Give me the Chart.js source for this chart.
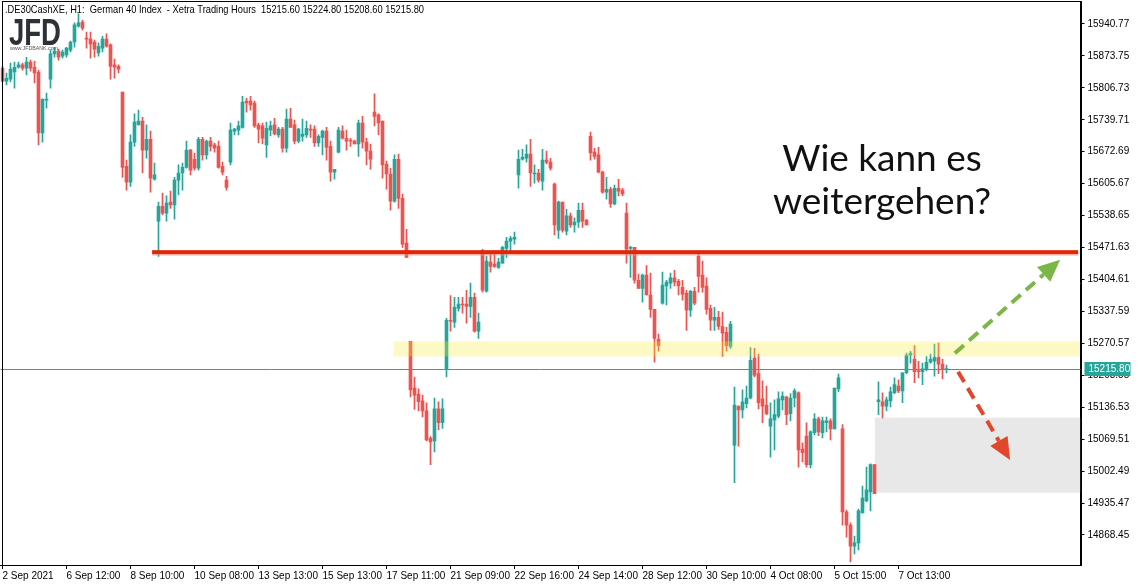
<!DOCTYPE html>
<html>
<head>
<meta charset="utf-8">
<script src="https://cdn.jsdelivr.net/npm/chart.js@4.4.1/dist/chart.umd.min.js"></script>
<style>
  html, body { margin: 0; padding: 0; background: #fff; }
</style>
</head>
<body>
<canvas id="chart" width="1142" height="588"></canvas>
<script>
// DE30 (German 40) H1 candles, Xetra hours, 2 Sep - 8 Oct 2021
const openP = [
  15848, 15821, 15825, 15840, 15850, 15855, 15848, 15861, 15850, 15840,
  15712, 15781, 15825, 15878, 15884, 15873, 15876, 15886, 15903, 15936,
  15945, 15911, 15909, 15903, 15880, 15890, 15909, 15897, 15855, 15852,
  15798, 15642, 15609, 15693, 15729, 15737, 15676, 15699, 15615, 15527,
  15558, 15544, 15567, 15561, 15613, 15628, 15640, 15676, 15657, 15638,
  15699, 15666, 15695, 15687, 15684, 15642, 15613, 15651, 15716, 15718,
  15724, 15779, 15779, 15775, 15729, 15727, 15687, 15718, 15729, 15708,
  15720, 15680, 15741, 15729, 15695, 15705, 15708, 15720, 15720, 15691,
  15703, 15716, 15684, 15630, 15672, 15716, 15701, 15697, 15695, 15689,
  15733, 15693, 15674, 15756, 15750, 15737, 15647, 15626, 15569, 15657,
  15575, 15481, 15275, 15177, 15164, 15150, 15129, 15072, 15066, 15133,
  15104, 15217, 15319, 15315, 15344, 15353, 15353, 15348, 15367, 15296,
  15458, 15380, 15441, 15437, 15430, 15439, 15470, 15485, 15489, 15624,
  15657, 15659, 15668, 15626, 15628, 15611, 15655, 15651, 15605, 15508,
  15567, 15506, 15538, 15519, 15525, 15550, 15529, 15705, 15672, 15666,
  15630, 15588, 15594, 15563, 15596, 15592, 15544, 15470, 15472, 15403,
  15386, 15414, 15372, 15342, 15279, 15355, 15391, 15397, 15408, 15401,
  15388, 15376, 15340, 15380, 15453, 15414, 15391, 15344, 15319, 15325,
  15306, 15294, 15264, 15057, 15139, 15131, 15144, 15156, 15239, 15207,
  15154, 15141, 15097, 15110, 15118, 15152, 15158, 15123, 15156, 15167,
  15049, 15076, 15016, 15083, 15112, 15083, 15104, 15108, 15091, 15175,
  15091, 14917, 14889, 14845, 14852, 14915, 14940, 14959, 15016, 15148,
  15148, 15139, 15150, 15167, 15181, 15171, 15209, 15246, 15237, 15213,
  15211, 15217, 15231, 15233, 15241, 15227, 15215.6
];
const highP = [
  15852, 15838, 15859, 15861, 15861, 15859, 15871, 15865, 15863, 15844,
  15783, 15796, 15886, 15892, 15888, 15886, 15892, 15905, 15943, 15962,
  15949, 15924, 15924, 15907, 15901, 15915, 15920, 15899, 15867, 15855,
  15798, 15655, 15708, 15752, 15760, 15745, 15729, 15716, 15649, 15567,
  15586, 15580, 15590, 15619, 15645, 15649, 15695, 15678, 15670, 15703,
  15703, 15697, 15703, 15691, 15695, 15651, 15621, 15733, 15722, 15737,
  15789, 15785, 15789, 15779, 15733, 15733, 15735, 15737, 15743, 15724,
  15724, 15762, 15764, 15739, 15722, 15741, 15737, 15729, 15727, 15708,
  15718, 15724, 15695, 15636, 15724, 15727, 15718, 15701, 15697, 15739,
  15747, 15701, 15689, 15794, 15752, 15737, 15653, 15638, 15666, 15668,
  15584, 15510, 15275, 15200, 15175, 15162, 15146, 15075, 15156, 15148,
  15154, 15323, 15371, 15367, 15367, 15367, 15382, 15397, 15376, 15334,
  15468, 15453, 15460, 15460, 15449, 15474, 15493, 15495, 15504, 15676,
  15678, 15687, 15699, 15645, 15636, 15678, 15674, 15659, 15607, 15569,
  15567, 15552, 15544, 15534, 15565, 15565, 15531, 15714, 15680, 15682,
  15632, 15619, 15598, 15603, 15615, 15596, 15565, 15474, 15472, 15416,
  15416, 15434, 15418, 15342, 15290, 15420, 15403, 15418, 15424, 15405,
  15403, 15382, 15382, 15388, 15462, 15443, 15408, 15351, 15346, 15338,
  15336, 15304, 15317, 15179, 15139, 15173, 15181, 15262, 15260, 15248,
  15192, 15181, 15146, 15152, 15169, 15169, 15160, 15165, 15175, 15169,
  15062, 15104, 15087, 15123, 15116, 15116, 15116, 15112, 15177, 15206,
  15100, 14921, 14894, 14866, 14923, 14971, 15011, 15018, 15016, 15190,
  15167, 15158, 15179, 15198, 15194, 15209, 15250, 15254, 15266, 15233,
  15229, 15243, 15248, 15269, 15271, 15237, 15224.8
];
const lowP = [
  15819, 15813, 15819, 15806, 15848, 15844, 15834, 15842, 15817, 15687,
  15693, 15764, 15806, 15871, 15865, 15869, 15871, 15882, 15892, 15934,
  15928, 15890, 15869, 15871, 15873, 15882, 15892, 15825, 15827, 15838,
  15619, 15592, 15600, 15684, 15729, 15628, 15659, 15588, 15613, 15453,
  15540, 15527, 15554, 15531, 15582, 15592, 15638, 15624, 15634, 15634,
  15655, 15657, 15674, 15672, 15638, 15624, 15592, 15645, 15708, 15708,
  15722, 15756, 15760, 15724, 15691, 15689, 15661, 15706, 15708, 15703,
  15672, 15672, 15724, 15689, 15691, 15695, 15703, 15703, 15684, 15684,
  15666, 15655, 15611, 15615, 15670, 15699, 15676, 15684, 15689, 15663,
  15680, 15645, 15636, 15727, 15708, 15617, 15594, 15550, 15567, 15554,
  15472, 15451, 15158, 15132, 15129, 15116, 15066, 15016, 15043, 15089,
  15092, 15200, 15296, 15304, 15338, 15334, 15313, 15325, 15294, 15281,
  15378, 15378, 15420, 15430, 15428, 15439, 15451, 15464, 15479, 15596,
  15655, 15651, 15600, 15607, 15609, 15592, 15647, 15634, 15498, 15491,
  15504, 15498, 15514, 15504, 15514, 15514, 15519, 15655, 15657, 15628,
  15586, 15573, 15556, 15561, 15580, 15580, 15439, 15409, 15397, 15386,
  15357, 15372, 15325, 15231, 15254, 15353, 15351, 15386, 15391, 15372,
  15361, 15298, 15327, 15351, 15378, 15378, 15332, 15298, 15298, 15300,
  15243, 15254, 15260, 14978, 15055, 15114, 15135, 15154, 15200, 15133,
  15104, 15121, 15032, 15047, 15114, 15131, 15100, 15108, 15137, 15011,
  15022, 15011, 15009, 15079, 15077, 15072, 15085, 15068, 15091, 15169,
  14889, 14864, 14812, 14829, 14837, 14915, 14938, 14919, 14955, 15121,
  15114, 15129, 15137, 15165, 15167, 15146, 15207, 15229, 15188, 15198,
  15184, 15213, 15229, 15202, 15207, 15196, 15208.6
];
const closeP = [
  15821, 15827, 15846, 15850, 15855, 15848, 15861, 15848, 15838, 15712,
  15783, 15783, 15878, 15884, 15871, 15882, 15890, 15903, 15939, 15943,
  15932, 15909, 15899, 15888, 15894, 15909, 15894, 15852, 15850, 15846,
  15640, 15609, 15693, 15735, 15737, 15676, 15699, 15617, 15624, 15558,
  15544, 15565, 15561, 15613, 15628, 15640, 15676, 15634, 15638, 15699,
  15666, 15695, 15684, 15680, 15640, 15630, 15598, 15718, 15720, 15727,
  15777, 15775, 15771, 15727, 15720, 15701, 15722, 15727, 15710, 15720,
  15680, 15741, 15724, 15695, 15720, 15710, 15722, 15718, 15691, 15705,
  15716, 15682, 15630, 15636, 15718, 15701, 15695, 15695, 15689, 15733,
  15693, 15674, 15657, 15747, 15733, 15645, 15626, 15569, 15657, 15575,
  15479, 15451, 15173, 15162, 15148, 15129, 15068, 15064, 15133, 15104,
  15133, 15319, 15317, 15346, 15353, 15351, 15348, 15367, 15296, 15315,
  15382, 15443, 15432, 15432, 15441, 15472, 15485, 15491, 15493, 15657,
  15661, 15668, 15628, 15628, 15613, 15655, 15651, 15638, 15519, 15567,
  15508, 15538, 15519, 15525, 15550, 15527, 15519, 15670, 15663, 15630,
  15588, 15594, 15563, 15596, 15590, 15584, 15468, 15472, 15403, 15386,
  15414, 15372, 15342, 15281, 15266, 15393, 15399, 15408, 15399, 15391,
  15374, 15340, 15380, 15355, 15411, 15388, 15342, 15319, 15325, 15306,
  15292, 15266, 15311, 15141, 15131, 15148, 15156, 15235, 15204, 15146,
  15139, 15123, 15112, 15121, 15154, 15160, 15121, 15156, 15171, 15047,
  15041, 15016, 15085, 15112, 15085, 15108, 15108, 15091, 15177, 15198,
  14917, 14889, 14845, 14852, 14919, 14946, 14963, 15016, 14955, 15152,
  15139, 15152, 15169, 15184, 15171, 15209, 15246, 15250, 15211, 15211,
  15217, 15231, 15237, 15241, 15227, 15217, 15215.8
];

const xTickLabels = ['2 Sep 2021', '6 Sep 12:00', '8 Sep 10:00', '10 Sep 08:00', '13 Sep 13:00',
  '15 Sep 13:00', '17 Sep 11:00', '21 Sep 09:00', '22 Sep 16:00', '24 Sep 14:00', '28 Sep 12:00',
  '30 Sep 10:00', '4 Oct 08:00', '5 Oct 15:00', '7 Oct 13:00'];
const yTickLabels = ['15940.77', '15873.75', '15806.73', '15739.71', '15672.69', '15605.67',
  '15538.65', '15471.63', '15404.61', '15337.59', '15270.57', '15203.55', '15136.53',
  '15069.51', '15002.49', '14935.47', '14868.45'];
const lastPrice = 15215.80;
const header = '.DE30CashXE, H1:  German 40 Index  - Xetra Trading Hours  15215.60 15224.80 15208.60 15215.80';

// drawings on the chart (bar index / price)
const resistance = { from: 37.4, to: 268.9, price: 15462 };
const yellowZone = { from: 97.8, to: 269.4, top: 15274.6, bottom: 15243.2 };
const grayZone = { from: 218.1, to: 269.4, top: 15114.6, bottom: 14957.2 };
const upArrow = { from: [238.1, 15250], to: [264.4, 15446] };
const downArrow = { from: [238.9, 15211], to: [251.9, 15026] };

const UP = '#26a69a';
const DOWN = '#ef5350';
const slots = 270;          // bars + empty space on the right
const barStep = 16;         // one time label every 16 bars

const categories = Array.from({ length: slots }, (_, i) => i);
const wicks = lowP.map((l, i) => [l, highP[i]]);
const bodies = openP.map((o, i) => [o, closeP[i]]);
const colors = openP.map((o, i) => closeP[i] >= o ? UP : DOWN);

function fitText(ctx, text, x, y, w) {
  const m = ctx.measureText(text).width;
  ctx.save();
  ctx.translate(x, y);
  if (m > w) ctx.scale(w / m, 1);
  ctx.fillText(text, 0, 0);
  ctx.restore();
}

function arrow(ctx, x1, y1, x2, y2, color) {
  const ang = Math.atan2(y2 - y1, x2 - x1);
  const head = 22;
  const bx = x2 - Math.cos(ang) * head, by = y2 - Math.sin(ang) * head;
  ctx.save();
  ctx.strokeStyle = color;
  ctx.fillStyle = color;
  ctx.lineWidth = 4;
  ctx.setLineDash([12, 7]);
  ctx.beginPath();
  ctx.moveTo(x1, y1);
  ctx.lineTo(bx, by);
  ctx.stroke();
  ctx.setLineDash([]);
  ctx.beginPath();
  ctx.moveTo(x2, y2);
  ctx.lineTo(bx + Math.cos(ang + Math.PI / 2) * 10, by + Math.sin(ang + Math.PI / 2) * 10);
  ctx.lineTo(bx + Math.cos(ang - Math.PI / 2) * 10, by + Math.sin(ang - Math.PI / 2) * 10);
  ctx.closePath();
  ctx.fill();
  ctx.restore();
}

const drawings = {
  id: 'drawings',
  beforeDatasetsDraw(chart) {
    const { ctx, chartArea: a, scales: { x, y } } = chart;
    ctx.save();
    // gray target box
    ctx.fillStyle = '#e8e8e8';
    const gx = x.getPixelForValue(grayZone.from), gy = y.getPixelForValue(grayZone.top);
    ctx.fillRect(gx, gy, x.getPixelForValue(grayZone.to) - gx, y.getPixelForValue(grayZone.bottom) - gy);
    // last price line
    const ly = Math.round(y.getPixelForValue(lastPrice)) + 0.5;
    ctx.strokeStyle = '#3f9c92';
    ctx.lineWidth = 1;
    ctx.beginPath();
    ctx.moveTo(a.left, ly);
    ctx.lineTo(a.right, ly);
    ctx.stroke();
    ctx.restore();
  },
  afterDatasetsDraw(chart) {
    const { ctx, chartArea: a, scales: { x, y } } = chart;
    ctx.save();
    // yellow zone, drawn over the candles
    ctx.fillStyle = 'rgba(250, 235, 60, 0.3)';
    const zx = x.getPixelForValue(yellowZone.from), zy = y.getPixelForValue(yellowZone.top);
    ctx.fillRect(zx, zy, x.getPixelForValue(yellowZone.to) - zx, y.getPixelForValue(yellowZone.bottom) - zy);

    // resistance line
    const ry = y.getPixelForValue(resistance.price);
    const rx = x.getPixelForValue(resistance.from);
    ctx.fillStyle = 'rgba(240, 150, 140, 0.6)';
    ctx.fillRect(rx, ry + 2, x.getPixelForValue(resistance.to) - rx, 1.5);
    ctx.fillStyle = '#e0270b';
    ctx.fillRect(rx, ry - 2, x.getPixelForValue(resistance.to) - rx, 4);

    // scenario arrows
    arrow(ctx, x.getPixelForValue(upArrow.from[0]), y.getPixelForValue(upArrow.from[1]),
      x.getPixelForValue(upArrow.to[0]), y.getPixelForValue(upArrow.to[1]), '#7ab648');
    arrow(ctx, x.getPixelForValue(downArrow.from[0]), y.getPixelForValue(downArrow.from[1]),
      x.getPixelForValue(downArrow.to[0]), y.getPixelForValue(downArrow.to[1]), '#e2472b');

    // question text
    ctx.fillStyle = '#111';
    ctx.font = '37px Lato';
    ctx.textAlign = 'center';
    ctx.textBaseline = 'alphabetic';
    ctx.fillText('Wie kann es', 882, 171);
    ctx.fillText('weitergehen?', 882, 214);

    // header line
    ctx.textAlign = 'left';
    ctx.textBaseline = 'middle';
    ctx.font = '11px "Liberation Sans"';
    ctx.fillStyle = '#000';
    fitText(ctx, header, 5, 10, 419);

    // JFD logo
    ctx.fillStyle = '#2c3138';
    ctx.font = 'bold 36px "Liberation Sans"';
    ctx.textBaseline = 'alphabetic';
    fitText(ctx, 'JFD', 9, 45, 52);
    ctx.font = '6px "Liberation Sans"';
    ctx.fillStyle = '#555';
    fitText(ctx, 'www.JFDBANK.com', 10, 50, 48);

    // frame
    ctx.strokeStyle = '#000';
    ctx.lineWidth = 1;
    ctx.strokeRect(Math.round(a.left) + 1.5, Math.round(a.top) + 0.5, Math.round(a.right - a.left) - 1, Math.round(a.bottom - a.top));

    // last price tag on the price axis
    const ly = Math.round(y.getPixelForValue(lastPrice));
    ctx.fillStyle = UP;
    ctx.fillRect(a.right + 4, ly - 7, 46, 14);
    ctx.fillStyle = '#fff';
    ctx.font = '10px "Liberation Sans"';
    ctx.textBaseline = 'middle';
    ctx.fillText(lastPrice.toFixed(2), a.right + 8, ly);
    ctx.restore();
  }
};

new Chart(document.getElementById('chart'), {
  type: 'bar',
  data: {
    labels: categories,
    datasets: [
      { data: wicks, backgroundColor: colors, barThickness: 1, grouped: false, order: 2 },
      { data: bodies, backgroundColor: colors, barThickness: 3, grouped: false, minBarLength: 1, order: 1 }
    ]
  },
  options: {
    responsive: false,
    animation: false,
    devicePixelRatio: 1,
    layout: { padding: { left: 0.5, top: 1, right: 0, bottom: 0 } },
    plugins: { legend: { display: false }, tooltip: { enabled: false } },
    scales: {
      x: {
        type: 'category',
        offset: true,
        grid: { drawOnChartArea: false, offset: false, tickLength: 4, color: '#000' },
        border: { color: '#000' },
        ticks: {
          autoSkip: false, maxRotation: 0, align: 'start', padding: 1,
          color: '#000', font: { family: 'Liberation Sans', size: 10 },
          callback: (v) => xTickLabels[v / barStep]
        },
        afterBuildTicks: (s) => { s.ticks = s.ticks.filter(t => t.value % barStep === 0 && t.value / barStep < xTickLabels.length); },
        afterFit: (s) => { s.height = 23; s.paddingLeft = 0; s.paddingRight = 0; }
      },
      y: {
        type: 'linear',
        position: 'right',
        min: 14805.49,
        max: 15989.03,
        grid: { drawOnChartArea: false, tickLength: 4, color: '#000' },
        border: { color: '#000' },
        ticks: {
          padding: 3, color: '#000', font: { family: 'Liberation Sans', size: 10 },
          callback: (v) => Number(v).toFixed(2)
        },
        afterBuildTicks: (s) => { s.ticks = yTickLabels.map(v => ({ value: parseFloat(v) })); },
        afterFit: (s) => { s.width = 61.5; s.paddingTop = 0; s.paddingBottom = 0; }
      }
    }
  },
  plugins: [drawings]
});
</script>
</body>
</html>
